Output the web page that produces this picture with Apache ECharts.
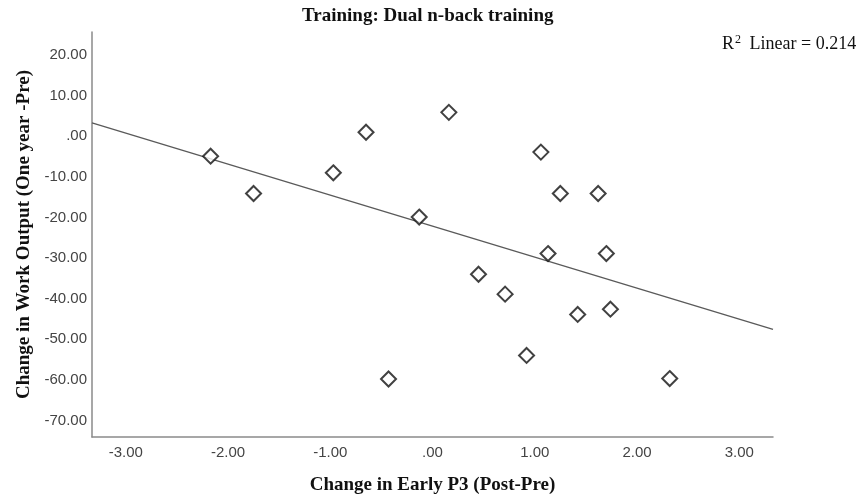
<!DOCTYPE html>
<html lang="en" style="height: 100%">
<head>
  <meta charset="utf-8">
</head>
<body style="height: 100%; margin: 0; background: #fff">
  <div id="container" style="width: 865px; height: 500px"></div>

  <script type="text/javascript" src="https://fastly.jsdelivr.net/npm/echarts@6/dist/echarts.min.js"></script>

  <script type="text/javascript">
    // change in early P3 (post - pre) for each participant
    var p3Change = [-2.17, -1.75, -0.97, -0.65, -0.13, 0.16, -0.43, 0.45, 0.71,
      1.06, 1.25, 1.13, 0.92, 1.42, 1.62, 1.70, 1.74, 2.32];
    // change in work output (one year - pre)
    var workChange = [-4.9, -14.1, -9.0, 1.0, -19.9, 5.9, -59.8, -34.0, -38.9,
      -3.9, -14.1, -28.9, -54.0, -43.9, -14.1, -28.9, -42.6, -59.7];
    // linear fit line, read at the two ends of the x axis
    var fitX = [-3.33, 3.33];
    var fitY = [3.3, -47.6];
    var xTicks = [-3, -2, -1, 0, 1, 2, 3];
    var yTicks = [20, 10, 0, -10, -20, -30, -40, -50, -60, -70];

    function fmt(v) {
      var s = Math.abs(v).toFixed(2);
      if (s.charAt(0) === '0') s = s.slice(1);
      return (v < 0 ? '-' : '') + s;
    }

    var serif = '"Liberation Serif", "Times New Roman", serif';
    var sans = '"Liberation Sans", Arial, sans-serif';

    var dom = document.getElementById('container');
    var myChart = echarts.init(dom, null, { renderer: 'canvas' });

    var points = p3Change.map(function (x, i) { return [x, workChange[i]]; });
    var fit = fitX.map(function (x, i) { return [x, fitY[i]]; });

    var option = {
      animation: false,
      backgroundColor: '#fff',
      title: [
        {
          text: 'Training: Dual n-back training',
          left: 302,
          top: 7,
          padding: 0,
          textStyle: { fontFamily: serif, fontWeight: 'bold', fontSize: 19, color: '#111' }
        },
        {
          text: '{a|R}{s|2}{a| Linear = 0.214}',
          left: 722,
          top: 34,
          padding: 0,
          textStyle: {
            fontWeight: 'normal',
            rich: {
              a: { fontFamily: serif, fontWeight: 'normal', fontSize: 18, color: '#111', lineHeight: 20 },
              s: { fontFamily: serif, fontWeight: 'normal', fontSize: 12, color: '#111', verticalAlign: 'top', padding: [0, 4, 0, 1] }
            }
          }
        }
      ],
      grid: { left: 92, right: 92, top: 32, bottom: 63, containLabel: false },
      xAxis: {
        type: 'value',
        min: -3.33,
        max: 3.33,
        name: 'Change in Early P3 (Post-Pre)',
        nameLocation: 'middle',
        nameGap: 39,
        nameTextStyle: { fontFamily: serif, fontWeight: 'bold', fontSize: 19, color: '#111' },
        axisLine: { show: true, onZero: false, lineStyle: { color: '#8a8a8a', width: 1.5 } },
        axisTick: { show: false },
        splitLine: { show: false },
        axisLabel: {
          customValues: xTicks,
          formatter: fmt,
          margin: 8,
          fontFamily: sans,
          fontSize: 15,
          color: '#444'
        }
      },
      yAxis: {
        type: 'value',
        min: -74.1,
        max: 25.7,
        name: 'Change in Work Output (One year -Pre)',
        nameLocation: 'middle',
        nameGap: 52,
        nameTextStyle: { fontFamily: serif, fontWeight: 'bold', fontSize: 19, color: '#111' },
        axisLine: { show: true, onZero: false, lineStyle: { color: '#8a8a8a', width: 1.5 } },
        axisTick: { show: false },
        splitLine: { show: false },
        axisLabel: {
          customValues: yTicks,
          formatter: fmt,
          margin: 5,
          fontFamily: sans,
          fontSize: 15,
          color: '#444'
        }
      },
      series: [
        {
          name: 'Linear fit',
          type: 'line',
          data: fit,
          showSymbol: false,
          silent: true,
          z: 1,
          lineStyle: { color: '#5a5a5a', width: 1.3 }
        },
        {
          name: 'Participants',
          type: 'scatter',
          data: points,
          symbol: 'diamond',
          symbolSize: 15,
          z: 2,
          itemStyle: { color: '#fff', borderColor: '#111', borderWidth: 2 }
        }
      ]
    };

    myChart.setOption(option);
    window.addEventListener('resize', myChart.resize);
  </script>
</body>
</html>
